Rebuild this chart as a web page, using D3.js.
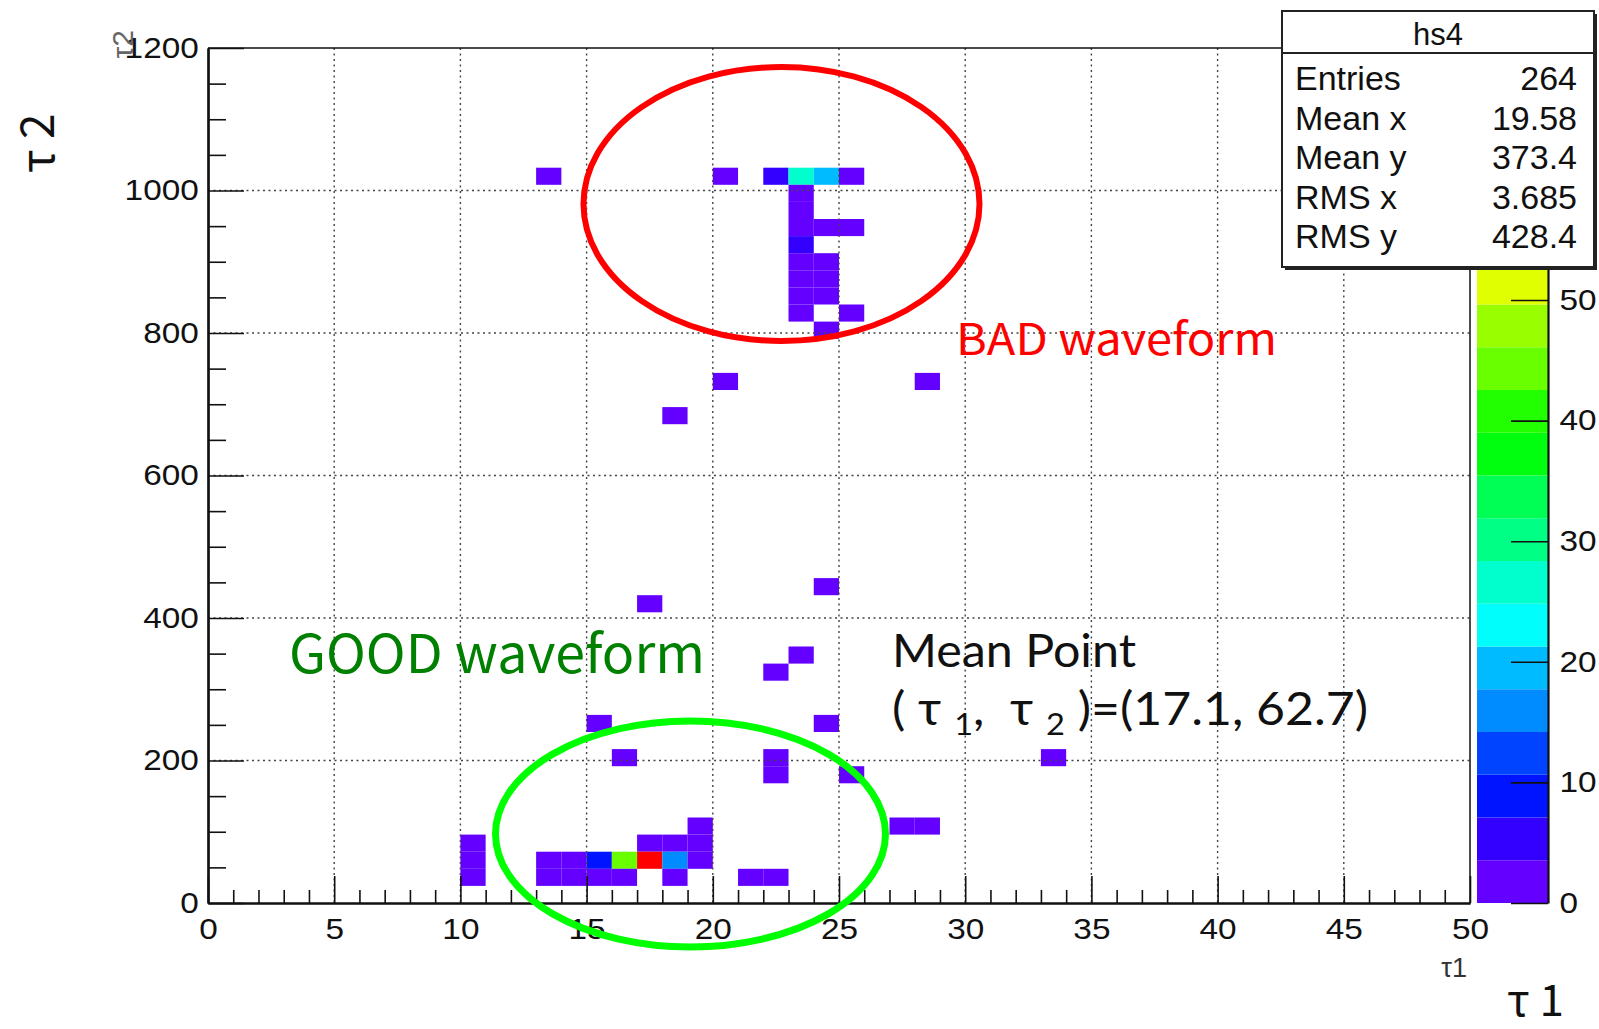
<!DOCTYPE html>
<html>
<head>
<meta charset="utf-8">
<script src="https://cdn.jsdelivr.net/npm/d3@7"></script>
<style>
  body { margin: 0; background: #fff; }
  svg text { font-family: "Liberation Sans", Arial, sans-serif; }
  .note { font-family: "Noto Sans CJK JP", "Noto Sans", sans-serif !important; }
  .mean { font-family: Lato, "Noto Sans CJK JP", sans-serif !important; white-space: pre; }
</style>
</head>
<body>
<svg id="chart" width="1599" height="1029"></svg>
<script>
// hs4 : tau2 vs tau1, bins of 1 (tau1) x 24 (tau2), lower edges + contents
var tau1Bins = [13, 20, 22, 23, 24, 25,
    23, 23, 23, 24, 25, 23, 23, 24, 23, 24, 23, 24, 23, 25, 24,
    20, 28, 18, 24, 17, 23, 22, 15, 24, 16, 22, 33, 22, 25, 19, 27, 28,
    10, 17, 18, 19,
    10, 13, 14, 15, 16, 17, 18, 19,
    10, 13, 14, 15, 16, 18, 21, 22];
var tau2Bins = [1008, 1008, 1008, 1008, 1008, 1008,
    984, 960, 936, 936, 936, 912, 888, 888, 864, 864, 840, 840, 816, 816, 792,
    720, 720, 672, 432, 408, 336, 312, 240, 240, 192, 192, 192, 168, 168, 96, 96, 96,
    72, 72, 72, 72,
    48, 48, 48, 48, 48, 48, 48, 48,
    24, 24, 24, 24, 24, 24, 24, 24];
var counts = [1, 1, 6, 26, 19, 1,
    2, 1, 2, 1, 1, 6, 2, 1, 1, 2, 1, 1, 2, 1, 1,
    1, 1, 1, 1, 1, 1, 1, 1, 1, 1, 1, 1, 1, 1, 2, 1, 1,
    2, 2, 2, 2,
    2, 2, 2, 8, 45, 68, 15, 2,
    2, 2, 2, 2, 2, 2, 2, 1];

var xTicks = [0, 5, 10, 15, 20, 25, 30, 35, 40, 45, 50];
var yTicks = [0, 200, 400, 600, 800, 1000, 1200];
var zTicks = [0, 10, 20, 30, 40, 50];
var zMax = 70.9;

var statNames = ["Entries", "Mean x", "Mean y", "RMS x", "RMS y"];
var statValues = ["264", "19.58", "373.4", "3.685", "428.4"];

var binW = 1, binH = 24, nLevels = 20, nColors = 50;

var frame = { left: 208, right: 1470, top: 48, bottom: 903 };

var svg = d3.select("#chart");
svg.append("rect").attr("width", 1599).attr("height", 1029).attr("fill", "#fff");

var x = d3.scaleLinear().domain([0, 50]).range([frame.left, frame.right]);
var y = d3.scaleLinear().domain([0, 1200]).range([frame.bottom, frame.top]);
var z = d3.scaleLinear().domain([0, zMax]).range([frame.bottom, frame.top]);

// ROOT "pretty" palette: 50 hues from violet to red, 20 contour levels
function levelColor(level) {
    var idx = Math.floor((level + 0.99) * nColors / nLevels);
    var hue = 280 - (idx + 1) * (280 / nColors);
    return d3.hsl(hue, 1, 0.5).formatHex();
}
function cellColor(v) {
    var level = Math.min(nLevels - 1, Math.floor(v / zMax * nLevels));
    return levelColor(level);
}

// cells
var cells = counts.map(function (c, i) { return { t1: tau1Bins[i], t2: tau2Bins[i], c: c }; });
svg.append("g").selectAll("rect")
    .data(cells)
    .enter().append("rect")
    .attr("x", function (d) { return x(d.t1); })
    .attr("y", function (d) { return y(d.t2 + binH); })
    .attr("width", function (d) { return x(d.t1 + binW) - x(d.t1); })
    .attr("height", function (d) { return y(d.t2) - y(d.t2 + binH); })
    .attr("fill", function (d) { return cellColor(d.c); });

// dotted grid
var grid = svg.append("g").attr("stroke", "#444").attr("stroke-width", 1.4).attr("stroke-dasharray", "2,3.5");
grid.selectAll(".gx").data(xTicks.slice(1, -1)).enter().append("line")
    .attr("x1", function (d) { return x(d); }).attr("x2", function (d) { return x(d); })
    .attr("y1", frame.top).attr("y2", frame.bottom);
grid.selectAll(".gy").data(yTicks.slice(1, -1)).enter().append("line")
    .attr("y1", function (d) { return y(d); }).attr("y2", function (d) { return y(d); })
    .attr("x1", frame.left).attr("x2", frame.right);

// frame top / right
svg.append("path")
    .attr("d", "M" + frame.left + "," + frame.top + "H" + frame.right + "V" + frame.bottom)
    .attr("fill", "none").attr("stroke", "#111").attr("stroke-width", 1.5);

function styleAxis(g) {
    g.select(".domain").attr("stroke", "#111").attr("stroke-width", 2.2);
    g.selectAll(".tick line").attr("stroke", "#111").attr("stroke-width", 1.6);
    g.selectAll(".tick text").attr("fill", "#111").style("font-size", "29px");
}

// x axis, minor ticks every 1
svg.append("g")
    .attr("transform", "translate(0," + frame.bottom + ")")
    .call(d3.axisBottom(x).tickValues(d3.range(0, 51, 1).filter(function (d) { return d % 5; }))
        .tickSize(-13).tickSizeOuter(0).tickFormat(""))
    .call(styleAxis);
svg.append("g")
    .attr("transform", "translate(0," + frame.bottom + ")")
    .call(d3.axisBottom(x).tickValues(xTicks).tickSize(-27).tickSizeOuter(0).tickPadding(15)
        .tickFormat(d3.format("d")))
    .call(styleAxis)
    .selectAll(".tick text").attr("transform", "scale(1.15,1)");

// y axis, minor ticks every 50
svg.append("g")
    .attr("transform", "translate(" + frame.left + ",0)")
    .call(d3.axisLeft(y).tickValues(d3.range(0, 1201, 50).filter(function (d) { return d % 200; }))
        .tickSize(-18).tickSizeOuter(0).tickFormat(""))
    .call(styleAxis);
svg.append("g")
    .attr("transform", "translate(" + frame.left + ",0)")
    .call(d3.axisLeft(y).tickValues(yTicks).tickSize(-36).tickSizeOuter(0).tickPadding(8)
        .tickFormat(d3.format("d")))
    .call(styleAxis)
    .selectAll(".tick text").attr("transform", "scale(1.15,1)");

// axis titles
svg.append("text").attr("x", 1467).attr("y", 977).attr("text-anchor", "end")
    .style("font-size", "27px").attr("fill", "#333").text("τ1");
svg.append("text").attr("transform", "translate(133,30) rotate(-90)").attr("text-anchor", "end")
    .style("font-size", "30px").attr("fill", "#666").text("τ2");

// colour palette bar
var pal = { left: 1477, right: 1548 };
svg.append("g").selectAll("rect")
    .data(d3.range(nLevels))
    .enter().append("rect")
    .attr("x", pal.left).attr("width", pal.right - pal.left)
    .attr("y", function (d) { return z((d + 1) * zMax / nLevels); })
    .attr("height", function (d) { return z(d * zMax / nLevels) - z((d + 1) * zMax / nLevels); })
    .attr("fill", function (d) { return levelColor(d); });
svg.append("g")
    .attr("transform", "translate(" + pal.right + ",0)")
    .call(d3.axisRight(z).tickValues(zTicks).tickSize(-37).tickSizeOuter(0).tickPadding(10))
    .call(styleAxis)
    .selectAll(".tick text").attr("transform", "scale(1.15,1)");

// stats box
var sb = { x: 1282, y: 11, w: 312, h: 256 };
svg.append("rect").attr("x", sb.x + 3).attr("y", sb.y + 3).attr("width", sb.w).attr("height", sb.h).attr("fill", "#222");
svg.append("rect").attr("x", sb.x).attr("y", sb.y).attr("width", sb.w).attr("height", sb.h)
    .attr("fill", "#fff").attr("stroke", "#222").attr("stroke-width", 2);
svg.append("line").attr("x1", sb.x).attr("x2", sb.x + sb.w).attr("y1", 53).attr("y2", 53)
    .attr("stroke", "#222").attr("stroke-width", 2);
svg.append("text").attr("x", sb.x + sb.w / 2).attr("y", 45).attr("text-anchor", "middle")
    .style("font-size", "31px").attr("fill", "#111").text("hs4");
var rowY = d3.scaleLinear().domain([0, 4]).range([90, 248]);
svg.append("g").selectAll("text").data(statNames).enter().append("text")
    .attr("x", 1295).attr("y", function (d, i) { return rowY(i); })
    .style("font-size", "34px").attr("fill", "#111").text(function (d) { return d; });
svg.append("g").selectAll("text").data(statValues).enter().append("text")
    .attr("x", 1577).attr("y", function (d, i) { return rowY(i); }).attr("text-anchor", "end")
    .style("font-size", "34px").attr("fill", "#111").text(function (d) { return d; });

// annotations drawn on top of the plot
svg.append("ellipse").attr("cx", 781.5).attr("cy", 204).attr("rx", 198).attr("ry", 137)
    .attr("fill", "none").attr("stroke", "#ff0000").attr("stroke-width", 6);
svg.append("ellipse").attr("cx", 690.5).attr("cy", 834).attr("rx", 195).attr("ry", 113)
    .attr("fill", "none").attr("stroke", "#00ff00").attr("stroke-width", 7);

svg.append("text").attr("class", "note").attr("x", 956).attr("y", 355)
    .attr("textLength", 321).attr("lengthAdjust", "spacingAndGlyphs")
    .style("font-size", "44px").attr("fill", "#ff0000").text("BAD waveform");
svg.append("text").attr("class", "note").attr("x", 289).attr("y", 673)
    .attr("textLength", 416).attr("lengthAdjust", "spacingAndGlyphs")
    .style("font-size", "53px").attr("fill", "#008000").text("GOOD waveform");

// mean point label, subscripts flow inline
svg.append("text").attr("class", "mean").attr("x", 892).attr("y", 667)
    .attr("textLength", 244).attr("lengthAdjust", "spacingAndGlyphs")
    .style("font-size", "46px").attr("fill", "#111").text("Mean Point");
var mp = svg.append("text").attr("class", "mean").attr("x", 892).attr("y", 725)
    .attr("textLength", 476).attr("lengthAdjust", "spacingAndGlyphs")
    .style("font-size", "46px").attr("fill", "#111");
mp.append("tspan").text("( τ ");
mp.append("tspan").attr("dy", 10).style("font-size", "30px").text("1");
mp.append("tspan").attr("dy", -10).text(",  τ ");
mp.append("tspan").attr("dy", 10).style("font-size", "30px").text("2");
mp.append("tspan").attr("dy", -10).text(" )=(17.1, 62.7)");

svg.append("text").attr("class", "note").attr("x", 1507).attr("y", 1016)
    .style("font-size", "44px").attr("fill", "#111").text("τ 1");
svg.append("text").attr("class", "note").attr("transform", "translate(54,173) rotate(-90)")
    .style("font-size", "46px").attr("fill", "#111").text("τ 2");
</script>
</body>
</html>
